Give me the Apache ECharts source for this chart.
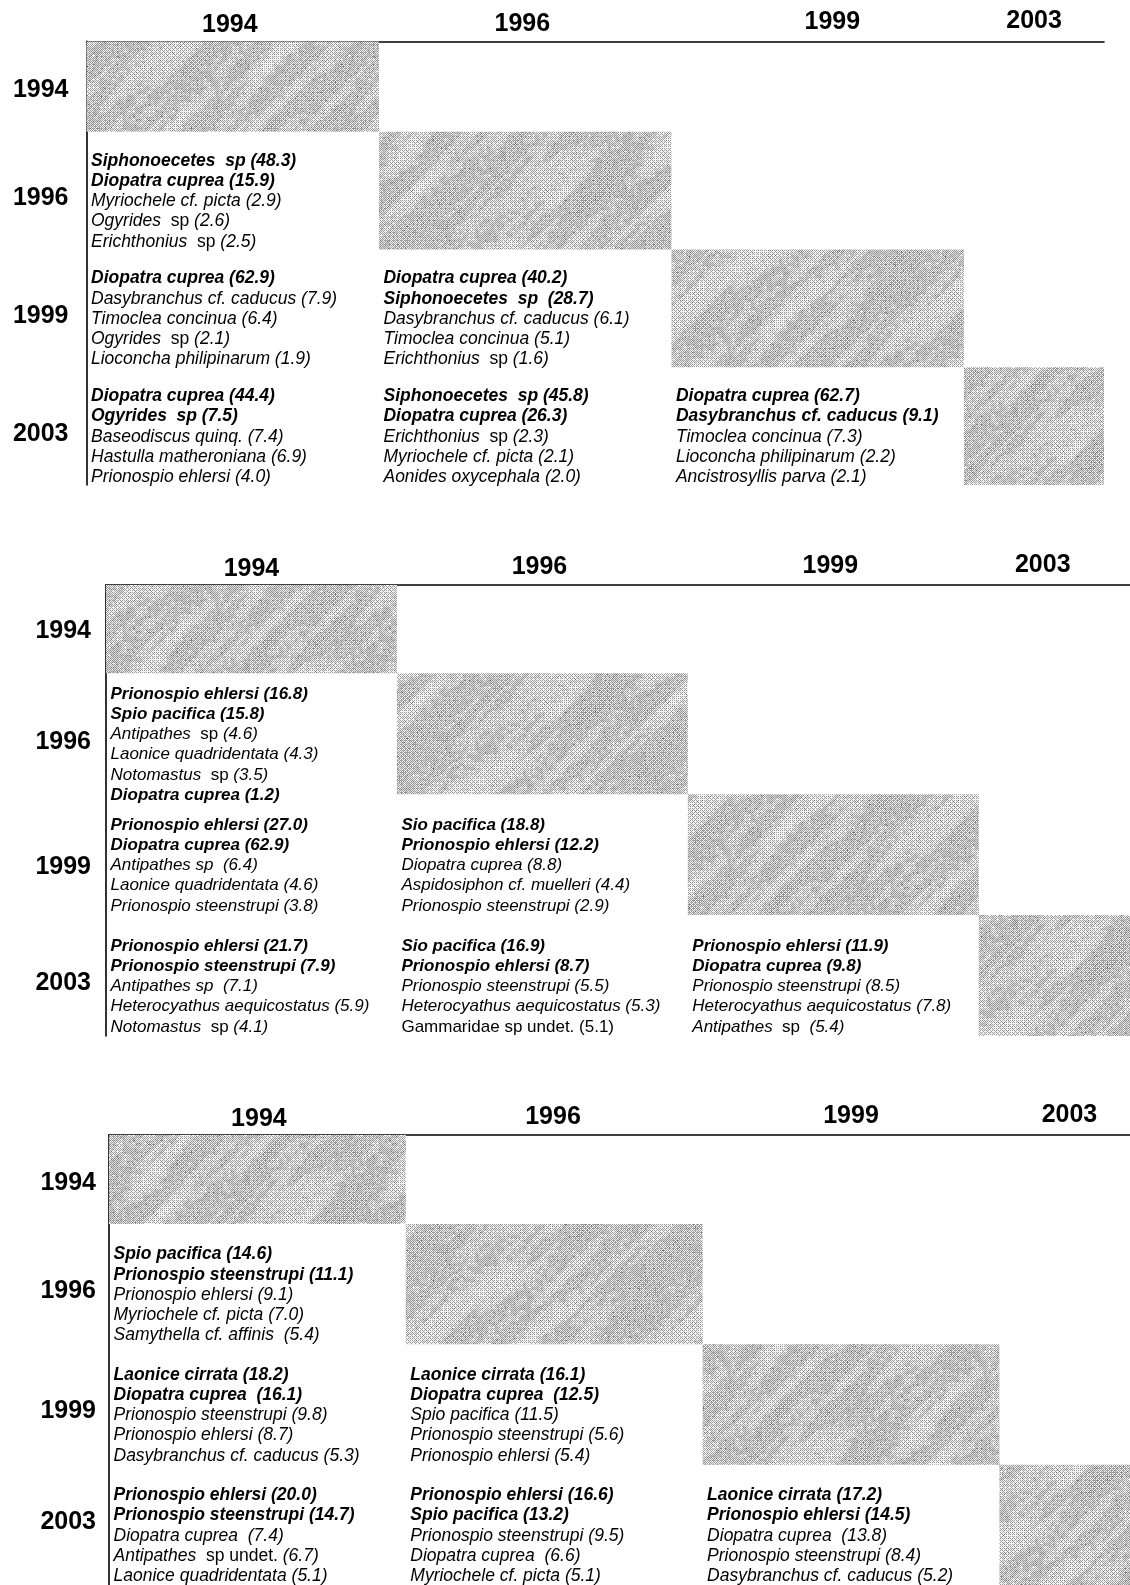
<!DOCTYPE html>
<html>
<head>
<meta charset="utf-8">
<script src="https://cdn.jsdelivr.net/npm/echarts@6/dist/echarts.min.js"></script>
<style>
html,body{margin:0;padding:0;background:#fff;}
#chart{width:1130px;height:1585px;}
</style>
</head>
<body>
<div id="chart"></div>
<script>
// ---------------- DATA ----------------
const years = ['1994', '1996', '1999', '2003'];

// Markup: leading '*' = bold line; text between '~' is upright (non-italic)
// Panel 1
const p1_96_94 = ['*Siphonoecetes  sp (48.3)', '*Diopatra cuprea (15.9)', 'Myriochele cf. picta (2.9)', 'Ogyrides~  sp ~(2.6)', 'Erichthonius~  sp ~(2.5)'];
const p1_99_94 = ['*Diopatra cuprea (62.9)', 'Dasybranchus cf. caducus (7.9)', 'Timoclea concinua (6.4)', 'Ogyrides~  sp ~(2.1)', 'Lioconcha philipinarum (1.9)'];
const p1_99_96 = ['*Diopatra cuprea (40.2)', '*Siphonoecetes  sp  (28.7)', 'Dasybranchus cf. caducus (6.1)', 'Timoclea concinua (5.1)', 'Erichthonius~  sp ~(1.6)'];
const p1_03_94 = ['*Diopatra cuprea (44.4)', '*Ogyrides  sp (7.5)', 'Baseodiscus quinq. (7.4)', 'Hastulla matheroniana (6.9)', 'Prionospio ehlersi (4.0)'];
const p1_03_96 = ['*Siphonoecetes  sp (45.8)', '*Diopatra cuprea (26.3)', 'Erichthonius~  sp ~(2.3)', 'Myriochele cf. picta (2.1)', 'Aonides oxycephala (2.0)'];
const p1_03_99 = ['*Diopatra cuprea (62.7)', '*Dasybranchus cf. caducus (9.1)', 'Timoclea concinua (7.3)', 'Lioconcha philipinarum (2.2)', 'Ancistrosyllis parva (2.1)'];

// Panel 2
const p2_96_94 = ['*Prionospio ehlersi (16.8)', '*Spio pacifica (15.8)', 'Antipathes~  sp ~(4.6)', 'Laonice quadridentata (4.3)', 'Notomastus~  sp ~(3.5)', '*Diopatra cuprea (1.2)'];
const p2_99_94 = ['*Prionospio ehlersi (27.0)', '*Diopatra cuprea (62.9)', 'Antipathes sp  (6.4)', 'Laonice quadridentata (4.6)', 'Prionospio steenstrupi (3.8)'];
const p2_99_96 = ['*Sio pacifica (18.8)', '*Prionospio ehlersi (12.2)', 'Diopatra cuprea (8.8)', 'Aspidosiphon cf. muelleri (4.4)', 'Prionospio steenstrupi (2.9)'];
const p2_03_94 = ['*Prionospio ehlersi (21.7)', '*Prionospio steenstrupi (7.9)', 'Antipathes sp  (7.1)', 'Heterocyathus aequicostatus (5.9)', 'Notomastus~  sp ~(4.1)'];
const p2_03_96 = ['*Sio pacifica (16.9)', '*Prionospio ehlersi (8.7)', 'Prionospio steenstrupi (5.5)', 'Heterocyathus aequicostatus (5.3)', '~Gammaridae sp undet. (5.1)~'];
const p2_03_99 = ['*Prionospio ehlersi (11.9)', '*Diopatra cuprea (9.8)', 'Prionospio steenstrupi (8.5)', 'Heterocyathus aequicostatus (7.8)', 'Antipathes~  sp  ~(5.4)'];

// Panel 3
const p3_96_94 = ['*Spio pacifica (14.6)', '*Prionospio steenstrupi (11.1)', 'Prionospio ehlersi (9.1)', 'Myriochele cf. picta (7.0)', 'Samythella cf. affinis  (5.4)'];
const p3_99_94 = ['*Laonice cirrata (18.2)', '*Diopatra cuprea  (16.1)', 'Prionospio steenstrupi (9.8)', 'Prionospio ehlersi (8.7)', 'Dasybranchus cf. caducus (5.3)'];
const p3_99_96 = ['*Laonice cirrata (16.1)', '*Diopatra cuprea  (12.5)', 'Spio pacifica (11.5)', 'Prionospio steenstrupi (5.6)', 'Prionospio ehlersi (5.4)'];
const p3_03_94 = ['*Prionospio ehlersi (20.0)', '*Prionospio steenstrupi (14.7)', 'Diopatra cuprea  (7.4)', 'Antipathes~  sp undet. ~(6.7)', 'Laonice quadridentata (5.1)'];
const p3_03_96 = ['*Prionospio ehlersi (16.6)', '*Spio pacifica (13.2)', 'Prionospio steenstrupi (9.5)', 'Diopatra cuprea  (6.6)', 'Myriochele cf. picta (5.1)'];
const p3_03_99 = ['*Laonice cirrata (17.2)', '*Prionospio ehlersi (14.5)', 'Diopatra cuprea  (13.8)', 'Prionospio steenstrupi (8.4)', 'Dasybranchus cf. caducus (5.2)'];

// diagonal (same-year) cells: [col, row]
const diagCells = [[0, 0], [1, 1], [2, 2], [3, 3]];
// lower-triangle text cells: [col, row]
const textCells = [[0, 1], [0, 2], [1, 2], [0, 3], [1, 3], [2, 3]];
const p1Texts = [p1_96_94, p1_99_94, p1_99_96, p1_03_94, p1_03_96, p1_03_99];
const p2Texts = [p2_96_94, p2_99_94, p2_99_96, p2_03_94, p2_03_96, p2_03_99];
const p3Texts = [p3_96_94, p3_99_94, p3_99_96, p3_03_94, p3_03_96, p3_03_99];

// header / row label tick positions
const p1HeaderPos = [0.49, 1.49, 2.55, 3.24];
const p2HeaderPos = [0.50, 1.49, 2.49, 3.22];
const p3HeaderPos = [0.505, 1.496, 2.50, 3.236];
const p1RowPos = [0.645, 1.564, 2.567, 3.571];
const p2RowPos = [0.648, 1.567, 2.603, 3.565];
const p3RowPos = [0.656, 1.558, 2.552, 3.478];

// ---------------- LAYOUT ----------------
const FONT = '"Liberation Sans", Arial, Helvetica, sans-serif';
const panels = [
  {left: 86.5, top: 41.4, width: 1017.5, height: 443.6, xMax: 3.479, yMin: 0.232, header: p1HeaderPos, rows: p1RowPos, rowMargin: 18, fs: 17.5, texts: p1Texts},
  {left: 106, top: 585, width: 1024, height: 451, xMax: 3.52, yMin: 0.27, header: p2HeaderPos, rows: p2RowPos, rowMargin: 15, fs: 17, texts: p2Texts},
  {left: 109, top: 1135, width: 1021, height: 450, xMax: 3.44, yMin: 0.26, header: p3HeaderPos, rows: p3RowPos, rowMargin: 13, fs: 17.5, texts: p3Texts}
];
const LINE_H = 20.2;
const TEXT_CENTER = 0.59;

// scanned-halftone-like texture (deterministic hash noise + ordered dither), tileable
function makeTexture() {
  const N = 256;
  const c = document.createElement('canvas');
  c.width = N; c.height = N;
  const ctx = c.getContext('2d');
  const img = ctx.createImageData(N, N);
  function hash(i, j, mi, mj) {
    i = ((i % mi) + mi) % mi; j = ((j % mj) + mj) % mj;
    const s = Math.sin(i * 127.1 + j * 311.7 + mi * 17.3 + mj * 3.7) * 43758.5453;
    return s - Math.floor(s);
  }
  function vnoise(u, v, cu, cv) {
    const mi = N / cu, mj = N / cv;
    const gx = u / cu, gy = v / cv;
    const i = Math.floor(gx), j = Math.floor(gy);
    let fx = gx - i, fy = gy - j;
    fx = fx * fx * (3 - 2 * fx); fy = fy * fy * (3 - 2 * fy);
    const a = hash(i, j, mi, mj), b = hash(i + 1, j, mi, mj), c2 = hash(i, j + 1, mi, mj), d = hash(i + 1, j + 1, mi, mj);
    return a + (b - a) * fx + (c2 - a) * fy + (a - b - c2 + d) * fx * fy;
  }
  const bayer = [0, 8, 2, 10, 12, 4, 14, 6, 3, 11, 1, 9, 15, 7, 13, 5];
  for (let y = 0; y < N; y++) {
    for (let x = 0; x < N; x++) {
      const u = (x + y) % N;           // diagonal streaks
      const f = 0.45 * vnoise(u, y, 16, 64) + 0.33 * vnoise(u, y, 8, 32) + 0.22 * vnoise(x, y, 4, 4);
      const dens = 0.18 + 0.62 * f;
      const t = (bayer[(y & 3) * 4 + (x & 3)] + 0.5) / 16;
      let v;
      if (dens > t) v = (hash(x, y, N, N) < 0.07) ? 110 : 158;
      else v = (f > 0.5 && f < 0.58) ? 214 : 243;
      const i = (y * N + x) * 4;
      img.data[i] = img.data[i + 1] = img.data[i + 2] = v;
      img.data[i + 3] = 255;
    }
  }
  ctx.putImageData(img, 0, 0);
  return c;
}
const texture = {image: makeTexture(), repeat: 'repeat'};

function toRich(line) {
  let bold = false;
  if (line[0] === '*') { bold = true; line = line.slice(1); }
  return line.split('~').map((s, k) => {
    if (!s) return '';
    const st = (k % 2) ? (bold ? 'bn' : 'n') : (bold ? 'b' : 'i');
    return '{' + st + '|' + s + '}';
  }).join('');
}
function richStyles(fs) {
  const base = {fontFamily: FONT, fontSize: fs, lineHeight: LINE_H, fill: '#000', color: '#000'};
  return {
    b: Object.assign({}, base, {fontStyle: 'italic', fontWeight: 'bold'}),
    i: Object.assign({}, base, {fontStyle: 'italic', fontWeight: 'normal'}),
    n: Object.assign({}, base, {fontStyle: 'normal', fontWeight: 'normal'}),
    bn: Object.assign({}, base, {fontStyle: 'normal', fontWeight: 'bold'})
  };
}

const headerRich = {};
[0, 3, 6, 8.5].forEach((pb, k) => {
  headerRich['h' + k] = {fontFamily: FONT, fontSize: 25, fontWeight: 'bold', color: '#000', lineHeight: 25, padding: [0, 0, pb, 0]};
});

const grid = [], xAxis = [], yAxis = [], series = [];
panels.forEach((p, pi) => {
  grid.push({left: p.left, top: p.top, width: p.width, height: p.height, containLabel: false});
  xAxis.push({
    gridIndex: pi, type: 'value', position: 'top', min: 0, max: p.xMax,
    axisLine: {show: true, onZero: false, lineStyle: {color: '#000', width: 1.6}},
    axisTick: {show: false}, splitLine: {show: false},
    axisLabel: {
      customValues: p.header, margin: 3.5,
      formatter: function (v) { const k = Math.floor(v); return '{h' + k + '|' + years[k] + '}'; },
      rich: headerRich
    }
  });
  yAxis.push({
    gridIndex: pi, type: 'value', inverse: true, min: p.yMin, max: 4,
    axisLine: {show: true, onZero: false, lineStyle: {color: '#000', width: 1.6}},
    axisTick: {show: false}, splitLine: {show: false},
    axisLabel: {
      customValues: p.rows, margin: p.rowMargin,
      fontFamily: FONT, fontSize: 25, fontWeight: 'bold', color: '#000',
      formatter: function (v) { return years[Math.floor(v)]; }
    }
  });
  series.push({
    type: 'custom', xAxisIndex: pi, yAxisIndex: pi, z: 1, silent: true,
    data: diagCells,
    renderItem: function (params, api) {
      const col = api.value(0), row = api.value(1);
      const cs = params.coordSys;
      const a = api.coord([col, row]), b = api.coord([col + 1, row + 1]);
      const x0 = Math.max(Math.min(a[0], b[0]), cs.x), x1 = Math.min(Math.max(a[0], b[0]), cs.x + cs.width);
      const y0 = Math.max(Math.min(a[1], b[1]), cs.y), y1 = Math.min(Math.max(a[1], b[1]), cs.y + cs.height);
      return {type: 'rect', shape: {x: x0, y: y0, width: x1 - x0, height: y1 - y0}, style: {fill: texture}};
    }
  });
  const rich = richStyles(p.fs);
  series.push({
    type: 'custom', xAxisIndex: pi, yAxisIndex: pi, z: 3, silent: true,
    data: textCells.map((c, k) => [c[0], c[1], k]),
    renderItem: function (params, api) {
      const col = api.value(0), row = api.value(1), k = api.value(2);
      const pt = api.coord([col, row + TEXT_CENTER]);
      const txt = p.texts[k].map(toRich).join('\n');
      return {
        type: 'text', x: pt[0] + 4.5, y: pt[1],
        style: {text: txt, rich: rich, align: 'left', verticalAlign: 'middle', fill: '#000',
                font: 'italic ' + p.fs + 'px ' + FONT, lineHeight: LINE_H}
      };
    }
  });
});

const chart = echarts.init(document.getElementById('chart'), null, {renderer: 'canvas'});
chart.setOption({
  backgroundColor: '#fff',
  animation: false,
  grid: grid, xAxis: xAxis, yAxis: yAxis, series: series
});
</script>
</body>
</html>
